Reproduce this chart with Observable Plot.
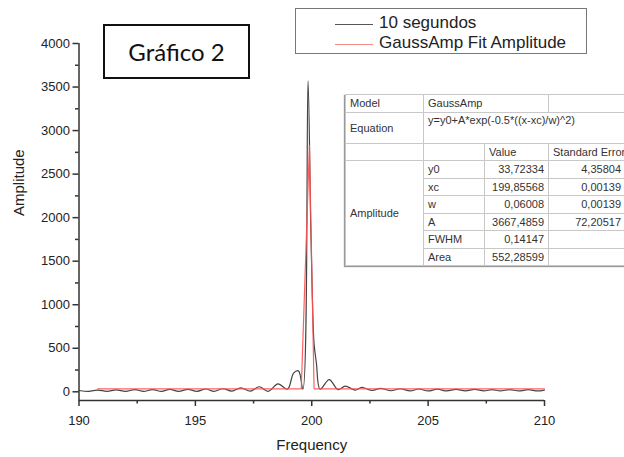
<!DOCTYPE html>
<html>
<head>
<meta charset="utf-8">
<script src="https://cdn.jsdelivr.net/npm/d3@7"></script>
<script src="https://cdn.jsdelivr.net/npm/@observablehq/plot@0.6"></script>
<style>
  html, body { margin: 0; padding: 0; background: #fff; }
  #wrap { position: relative; width: 624px; height: 457px; overflow: hidden; font-family: "Liberation Sans", Arial, sans-serif; }
  #legend { position: absolute; left: 295px; top: 8px; width: 292px; height: 46px; border: 1px solid #777; box-sizing: border-box; background: #fff; }
  .lg { position: absolute; left: 0; font-size: 17px; color: #222; }
  .lg .sw { position: absolute; left: 39px; width: 38px; height: 0; }
  .lg span.t { position: absolute; left: 83px; white-space: nowrap; }
  #titlebox { position: absolute; left: 103px; top: 24px; width: 147px; height: 55px; border: 2px solid #111; box-sizing: border-box; background: #fff;
     font-family: Lato, "Noto Sans", sans-serif; font-size: 24px; color: #111; display: flex; align-items: center; justify-content: center; }
  #tbl { position: absolute; left: 345px; top: 94px; width: 300px; height: 172px; background: #fff; box-shadow: -1px 1px 1px #999; }
  #tbl table { border-collapse: collapse; font-family: "Liberation Sans", Arial, sans-serif; font-size: 11px; color: #333; table-layout: fixed; width: 300px; }
  #tbl td { border: 1px solid #c8c8c8; padding: 0 4px; height: 16.5px; white-space: nowrap; overflow: hidden; }
</style>
</head>
<body>
<div id="wrap"></div>
<script>
// ---- data ----
const freq = [190.0, 190.42, 190.8, 191.2, 191.6, 192.0, 192.4, 192.78, 193.16, 193.54, 193.9, 194.28, 194.68, 195.07,
  195.45, 195.8, 196.18, 196.57, 196.95, 197.36, 197.74, 198.13, 198.55, 198.96, 199.22, 199.43, 199.62, 199.84,
  199.95, 200.02, 200.1, 200.2, 200.36, 200.75, 201.13, 201.44, 201.87, 202.15, 202.6, 202.95, 203.4, 203.8,
  204.23, 204.6, 205.0, 205.4, 205.8, 206.2, 206.6, 207.0, 207.4, 207.75, 208.1, 208.5, 208.9, 209.3, 209.7, 210.0];
const amp = [15, 5, 20, 5, 22, 5, 24, 5, 25, 5, 27, 5, 28, 5,
  32, 5, 35, 8, 45, 8, 58, 5, 90, 30, 215, 240, 30, 3570,
  2000, 1150, 550, 330, 30, 140, 25, 65, 20, 50, 15, 40, 12, 35,
  10, 32, 10, 30, 10, 28, 10, 27, 10, 25, 10, 25, 10, 24, 10, 20];

const fitFreq = [190.8, 199.55, 199.9, 200.1, 210.0];
const fitAmp = [33.7, 33.7, 2830, 33.7, 33.7];

const xMajor = [190, 195, 200, 205, 210];
const xMinor = [192.5, 197.5, 202.5, 207.5];
const yMajor = [0, 500, 1000, 1500, 2000, 2500, 3000, 3500, 4000];
const yMinor = [250, 750, 1250, 1750, 2250, 2750, 3250, 3750];

const seriesNames = ["10 segundos", "GaussAmp Fit Amplitude"];
const chartTitle = "Gráfico 2";

const paramNames = ["y0", "xc", "w", "A", "FWHM", "Area"];
const paramValues = ["33,72334", "199,85568", "0,06008", "3667,4859", "0,14147", "552,28599"];
const paramErrors = ["4,35804", "0,00139", "0,00139", "72,20517", "", ""];

// ---- build ----
const raw = freq.map((f, i) => ({f, a: amp[i]}));
const fit = fitFreq.map((f, i) => ({f, a: fitAmp[i]}));

const axisColor = "#333";
const chart = Plot.plot({
  width: 624,
  height: 457,
  marginLeft: 78.5,
  marginRight: 80,
  marginTop: 43,
  marginBottom: 57,
  style: {fontFamily: "'Liberation Sans', Arial, sans-serif", fontSize: "13px", color: "#222", background: "#fff"},
  x: {domain: [190, 210]},
  y: {domain: [-100, 4000]},
  marks: [
    Plot.line(raw, {x: "f", y: "a", stroke: "#444", strokeWidth: 1.2, curve: "catmull-rom"}),
    Plot.line(fit, {x: "f", y: "a", stroke: "#ff5050", strokeWidth: 1.2, strokeOpacity: 0.9}),
    Plot.ruleX([190], {y1: -100, y2: 4000, stroke: axisColor, strokeWidth: 1.5}),
    Plot.ruleY([-100], {x1: 190, x2: 210, stroke: axisColor, strokeWidth: 1.5}),
    Plot.axisX({ticks: xMajor, tickSize: 6, tickPadding: 9, tickFormat: d => String(d), label: null, stroke: axisColor, strokeWidth: 1.5, fill: "#222"}),
    Plot.axisX({ticks: xMinor, tickSize: 3.5, tickFormat: () => "", label: null, stroke: axisColor, strokeWidth: 1.5}),
    Plot.axisY({ticks: yMajor, tickSize: 6, tickPadding: 3, tickFormat: d => String(d), label: null, stroke: axisColor, strokeWidth: 1.5, fill: "#222"}),
    Plot.axisY({ticks: yMinor, tickSize: 3.5, tickFormat: () => "", label: null, stroke: axisColor, strokeWidth: 1.5}),
    Plot.text(["Frequency"], {frameAnchor: "bottom", dy: 49, fontSize: 15, fill: "#222"}),
    Plot.text(["Amplitude"], {frameAnchor: "left", dx: -60, dy: -6, rotate: -90, fontSize: 15, fill: "#222"})
  ]
});

const wrap = document.getElementById("wrap");
wrap.appendChild(chart);

// legend
const legend = document.createElement("div");
legend.id = "legend";
const swatchColors = ["#555", "#f38a8a"];
const legendTops = [4, 24];
seriesNames.forEach((name, i) => {
  const row = document.createElement("div");
  row.className = "lg";
  row.style.top = legendTops[i] + "px";
  row.innerHTML = `<div class="sw" style="top:11px;border-top:1.3px solid ${swatchColors[i]}"></div><span class="t">${name}</span>`;
  legend.appendChild(row);
});
wrap.appendChild(legend);

// title box
const tb = document.createElement("div");
tb.id = "titlebox";
tb.textContent = chartTitle;
wrap.appendChild(tb);

// parameter table
const tblDiv = document.createElement("div");
tblDiv.id = "tbl";
let html = `<table><colgroup><col style="width:78px"><col style="width:61px"><col style="width:64px"><col style="width:97px"></colgroup>`;
html += `<tr><td style="height:16px">Model</td><td colspan="2">GaussAmp</td><td></td></tr>`;
html += `<tr><td style="height:30px">Equation</td><td colspan="3" style="vertical-align:top;padding-top:1px">y=y0+A*exp(-0.5*((x-xc)/w)^2)</td></tr>`;
html += `<tr><td></td><td></td><td>Value</td><td>Standard Error</td></tr>`;
paramNames.forEach((p, i) => {
  html += `<tr>${i === 0 ? `<td rowspan="${paramNames.length}">Amplitude</td>` : ""}<td>${p}</td><td style="text-align:right">${paramValues[i]}</td><td style="text-align:right;padding-right:24px">${paramErrors[i]}</td></tr>`;
});
html += `</table>`;
tblDiv.innerHTML = html;
wrap.appendChild(tblDiv);
</script>
</body>
</html>
